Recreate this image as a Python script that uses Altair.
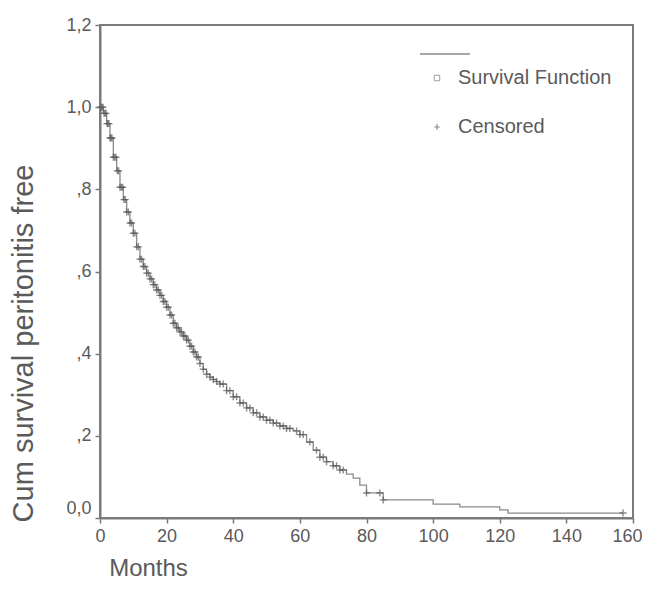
import altair as alt
import pandas as pd
import numpy as np

# Kaplan-Meier step points (months, survival)
step_t = [0, 1, 2, 3, 4, 5, 6, 7, 8, 9, 10, 11, 12, 13, 14, 15, 16, 17, 18, 19,
          20, 21, 22, 23, 24, 25, 26, 27, 28, 29, 30, 31, 32, 33, 34, 35, 36, 38,
          40, 42, 44, 46, 48, 50, 52, 54, 56, 58, 60, 62, 64, 66, 68, 70, 72, 74,
          76, 78, 80, 85, 100, 108, 120, 122.5, 157]
step_s = [1.0, 0.985, 0.960, 0.925, 0.878, 0.845, 0.805, 0.775, 0.745, 0.718,
          0.693, 0.660, 0.630, 0.612, 0.596, 0.582, 0.568, 0.555, 0.542, 0.527,
          0.513, 0.494, 0.474, 0.463, 0.453, 0.443, 0.433, 0.418, 0.404, 0.392,
          0.376, 0.362, 0.350, 0.343, 0.337, 0.332, 0.326, 0.310, 0.295, 0.280,
          0.268, 0.256, 0.246, 0.238, 0.231, 0.224, 0.218, 0.212, 0.203, 0.185,
          0.165, 0.148, 0.137, 0.127, 0.117, 0.107, 0.097, 0.080, 0.061, 0.044,
          0.034, 0.027, 0.020, 0.012, 0.012]

# Censored observation times (months)
censor_t = [0.3, 0.6, 0.9, 1.2, 1.5, 1.8, 2.1, 2.4, 2.7, 3.0, 3.3, 3.6, 4.0,
            4.4, 4.8, 5.2, 5.6, 6.0, 6.4, 6.8, 7.2, 7.6, 8.0, 8.5, 9.0, 9.5,
            10.0, 10.5, 11.0, 11.5, 12.0, 12.5, 13.0, 13.5, 14.0, 14.5, 15.0,
            15.5, 16.0, 16.5, 17.0, 17.5, 18.0, 18.5, 19.0, 19.5, 20.0, 20.5,
            21.0, 21.5, 22.0, 22.5, 23.0, 23.5, 24.0, 24.5, 25.0, 25.5, 26.0,
            26.5, 27.0, 27.5, 28.0, 28.5, 29.0, 29.5, 30.0, 31.0, 32.0, 33.0,
            34.0, 35.0, 36.0, 37.0, 38.0, 39.0, 40.0, 41.0, 42.0, 43.0, 44.0,
            45.0, 46.0, 47.0, 48.0, 49.0, 50.0, 51.0, 52.0, 53.0, 54.0, 55.0,
            56.0, 57.0, 59.0, 60.0, 61.0, 63.0, 65.0, 66.0, 67.0, 68.0, 70.0,
            71.0, 72.0, 73.0, 80.0, 84.0, 85.0, 157.0]

y_ticks = [0.0, 0.2, 0.4, 0.6, 0.8, 1.0, 1.2]
y_labels = ["0,0", ",2", ",4", ",6", ",8", "1,0", "1,2"]
x_ticks = [0, 20, 40, 60, 80, 100, 120, 140, 160]

curve = pd.DataFrame({"t": step_t, "s": step_s})
idx = np.searchsorted(np.array(step_t), np.array(censor_t), side="right") - 1
cens = pd.DataFrame({"t": censor_t, "s": [step_s[i] for i in idx]})

label_expr = " : ".join(
    f"datum.value == {v} ? '{l}'" for v, l in zip(y_ticks, y_labels)
) + " : ''"

FONT = "Liberation Sans"
GREY = "#5a5a5a"

xs = alt.X("t:Q", scale=alt.Scale(domain=[0, 160], nice=False),
           axis=alt.Axis(values=x_ticks, title="Months", grid=False,
                         labelFlush=False,
                         labelOffset={"condition": {"test": "datum.value == 160", "value": -6}, "value": 0},
                         titleX=48, titleY=57, titleAlign="center",
                         titleBaseline="alphabetic", titleFontSize=24,
                         titleFontWeight="normal"))
ys = alt.Y("s:Q", scale=alt.Scale(domain=[0, 1.2], nice=False),
           axis=alt.Axis(values=y_ticks, labelExpr=label_expr,
                         labelFlush=False,
                         labelOffset={"condition": {"test": "datum.value == 0", "value": -10}, "value": 0},
                         title="Cum survival peritonitis free", grid=False,
                         titleX=-62, titleY=318, titleAlign="center",
                         titleFontSize=29, titleFontWeight="normal"))

line = alt.Chart(curve).mark_line(interpolate="step-after", color="#8a8a8a",
                                  strokeWidth=1.3).encode(x=xs, y=ys)
marks = alt.Chart(cens).mark_point(shape="M-1,0H1M0,-1V1", size=49,
                                   filled=False, color="#5a5a5a",
                                   strokeWidth=1.4).encode(x="t:Q", y="s:Q")

one = alt.Data(values=[{"a": 1}])
leg_line = alt.Chart(one).mark_rule(color="#8a8a8a", strokeWidth=1.3).encode(
    x=alt.value(320), x2=alt.value(370), y=alt.value(29))
leg_sq = alt.Chart(one).mark_point(shape="square", size=30, filled=False,
                                   color="#777777", strokeWidth=1).encode(
    x=alt.value(337), y=alt.value(53))
leg_cross = alt.Chart(one).mark_point(shape="M-1,0H1M0,-1V1", size=30,
                                      filled=False, color="#555555",
                                      strokeWidth=1.2).encode(
    x=alt.value(337), y=alt.value(102))
leg_t1 = alt.Chart(one).mark_text(text="Survival Function", align="left",
                                  baseline="middle", fontSize=20, font=FONT,
                                  color=GREY).encode(
    x=alt.value(358), y=alt.value(53))
leg_t2 = alt.Chart(one).mark_text(text="Censored", align="left",
                                  baseline="middle", fontSize=20, font=FONT,
                                  color=GREY).encode(
    x=alt.value(358), y=alt.value(102))

chart = alt.layer(line, marks, leg_line, leg_sq, leg_cross, leg_t1, leg_t2).properties(
    width=533, height=493,
    autosize=alt.AutoSizeParams(type="none"),
    padding={"left": 92, "top": 17, "right": 9, "bottom": 65},
    background="white",
).configure_view(stroke="#7a7a7a", strokeWidth=2).configure_axis(
    domainColor="#7a7a7a", domainWidth=2, tickColor="#7a7a7a", tickSize=5,
    tickWidth=1.5, labelFont=FONT, titleFont=FONT, labelFontSize=18,
    labelColor=GREY, titleColor=GREY, labelPadding=4,
)

chart.save("out.html", embed_options={"renderer": "svg", "actions": False})
